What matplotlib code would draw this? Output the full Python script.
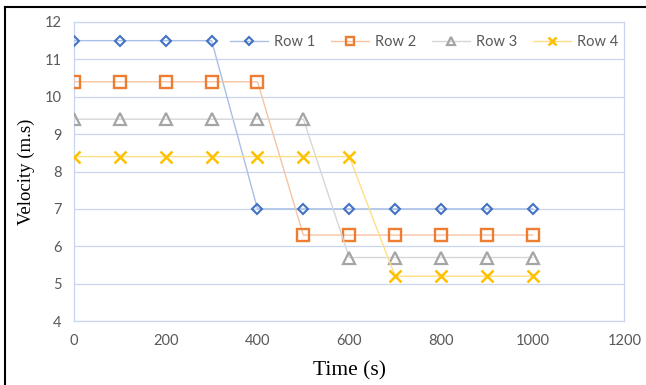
import matplotlib

matplotlib.use("Agg")
import matplotlib.pyplot as plt
from matplotlib.lines import Line2D

time_s = [0, 100, 200, 300, 400, 500, 600, 700, 800, 900, 1000]
row1 = [11.5, 11.5, 11.5, 11.5, 7.0, 7.0, 7.0, 7.0, 7.0, 7.0, 7.0]
row2 = [10.4, 10.4, 10.4, 10.4, 10.4, 6.3, 6.3, 6.3, 6.3, 6.3, 6.3]
row3 = [9.4, 9.4, 9.4, 9.4, 9.4, 9.4, 5.7, 5.7, 5.7, 5.7, 5.7]
row4 = [8.4, 8.4, 8.4, 8.4, 8.4, 8.4, 8.4, 5.2, 5.2, 5.2, 5.2]
series_names = ["Row 1", "Row 2", "Row 3", "Row 4"]
x_ticks = [0, 200, 400, 600, 800, 1000, 1200]
y_ticks = [4, 5, 6, 7, 8, 9, 10, 11, 12]

# (marker colour, lighter line colour, marker, size, edge width)
styles = [
    ("#4472C4", "#A9BFE6", "D", 5.5, 1.5),
    ("#ED7D31", "#F6C4A3", "s", 8, 1.7),
    ("#A5A5A5", "#D6D6D6", "^", 8, 1.6),
    ("#FFC000", "#FFDF85", "x", 8, 1.8),
]

label_grey = "#595959"
grid_blue = "#C9D6EE"

fig = plt.figure(figsize=(6.46, 3.85), dpi=100)
ax = fig.add_axes([0.1146, 0.166, 0.852, 0.777])

for name, values, (col, light, mk, ms, mew) in zip(
    series_names, [row1, row2, row3, row4], styles
):
    ax.plot(time_s, values, color=light, lw=1.0, marker=mk, ms=ms,
            mec=col, mfc="none", mew=mew, label=name, zorder=3)

ax.set_xlim(0, 1200)
ax.set_ylim(4, 12)
ax.set_xticks(x_ticks)
ax.set_yticks(y_ticks)
ax.grid(axis="y", color=grid_blue, lw=0.9)
ax.set_axisbelow(True)
for s in ax.spines.values():
    s.set_color(grid_blue)
    s.set_linewidth(0.9)
ax.tick_params(length=0, labelsize=10.5, labelcolor=label_grey, pad=9)
for lab in ax.get_xticklabels() + ax.get_yticklabels():
    lab.set_family("Lato")

ax.set_xlabel("Time (s)", family="Liberation Serif", fontsize=15.5, labelpad=10)
ax.set_ylabel("Velocity (m.s)", family="Liberation Serif", fontsize=13.5, labelpad=7)

leg = ax.legend(loc="upper right", bbox_to_anchor=(1.012, 1.0), ncol=4,
                frameon=False, handlelength=2.6,
                columnspacing=1.1, handletextpad=0.4, markerscale=0.7,
                prop={"family": "Lato", "size": 10.5})
for t in leg.get_texts():
    t.set_color(label_grey)

# partial black border of the picture
fig.add_artist(Line2D([5 / 646, 1], [1 - 7 / 385, 1 - 7 / 385], color="black", lw=1.5))
fig.add_artist(Line2D([5 / 646, 5 / 646], [0, 1 - 7 / 385], color="black", lw=1.5))

fig.savefig("out.png", dpi=100)
